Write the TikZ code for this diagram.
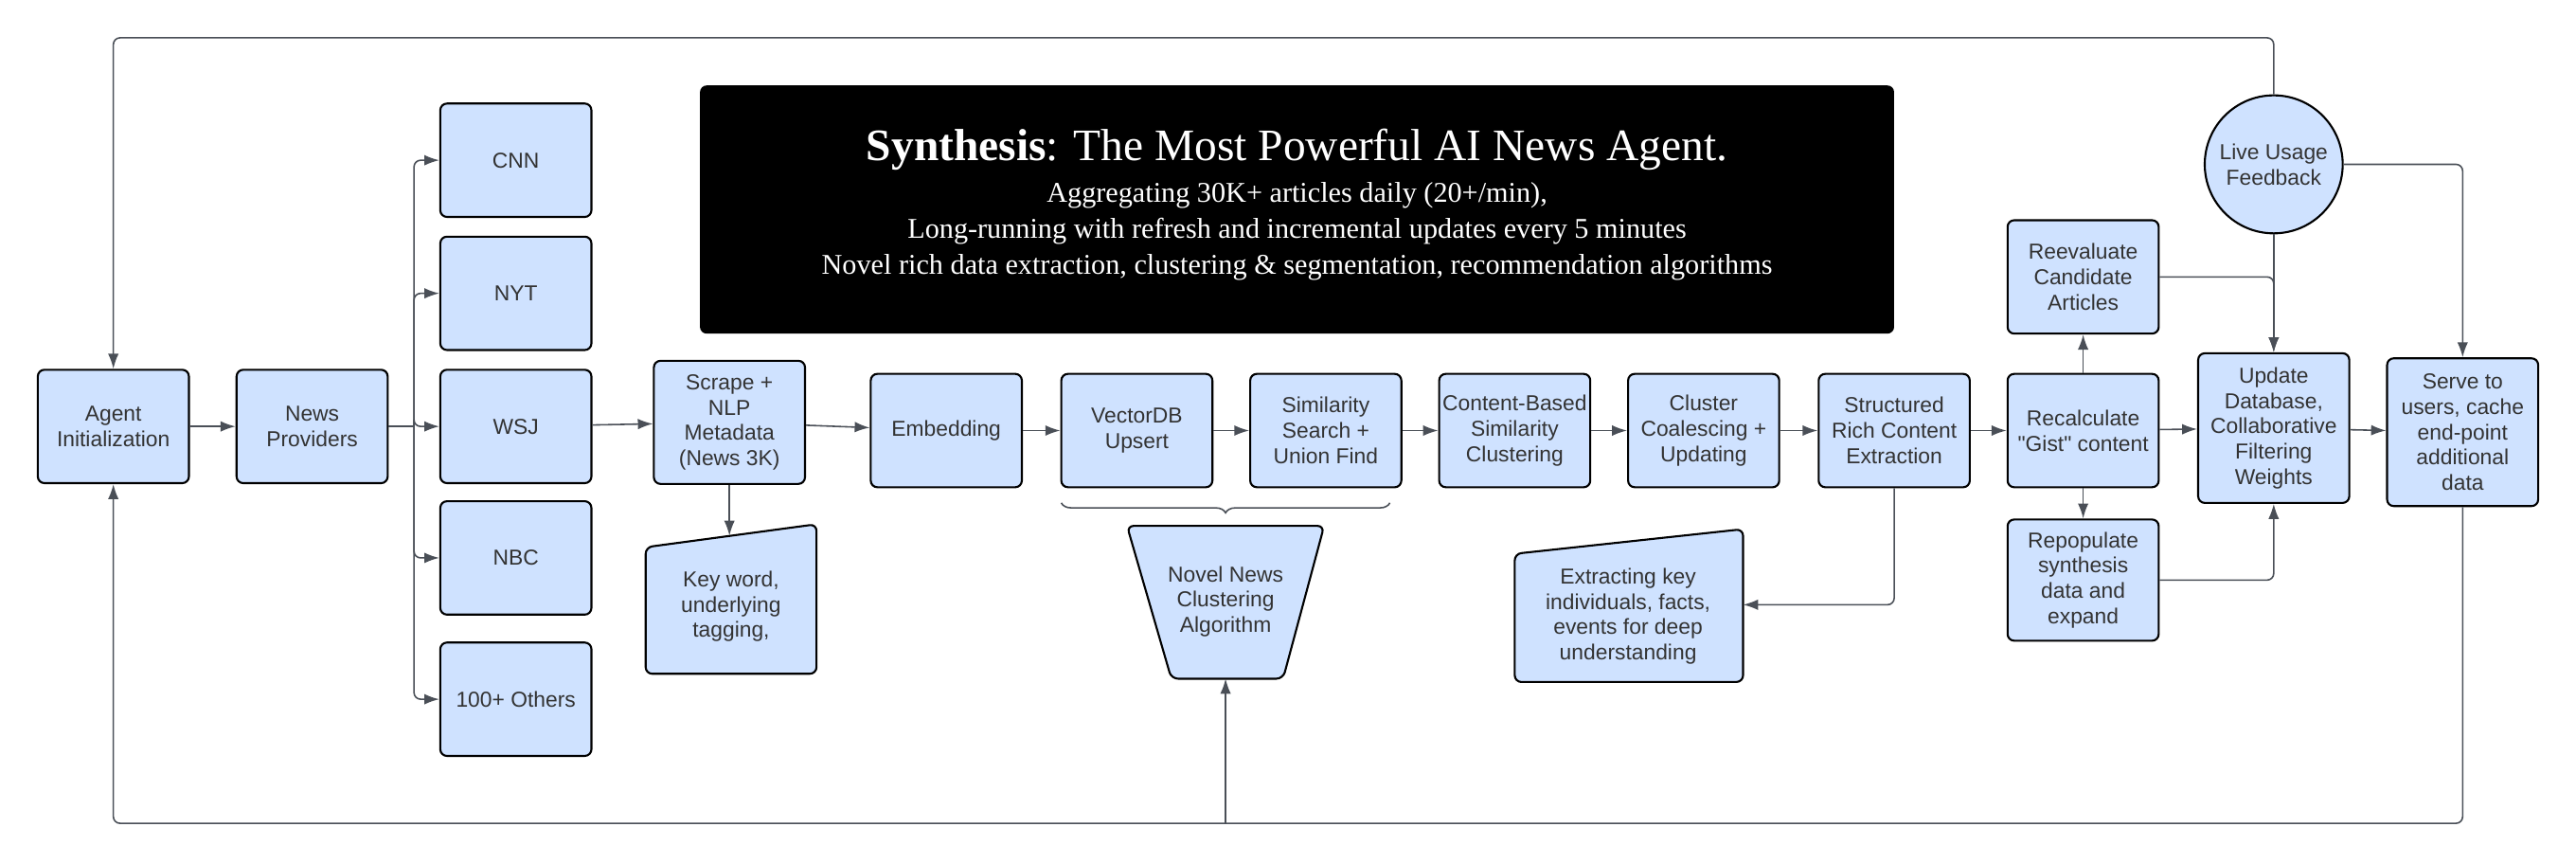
\documentclass[tikz,border=0pt]{standalone}
\usepackage{fontspec}
\setmainfont{Liberation Serif}
\newfontfamily\boxfont{Liberation Sans}
\usetikzlibrary{arrows.meta,decorations.pathreplacing}
\definecolor{boxblue}{HTML}{CFE2FF}
\definecolor{linegray}{HTML}{4A4F57}
\tikzset{
  box/.style={draw=black, fill=boxblue, rounded corners=2pt, line width=0.6pt, align=center,
    font=\boxfont\fontsize{6.5}{7.6}\selectfont, text=black!80, inner sep=1pt,
    minimum width=1.596cm, minimum height=1.197cm},
  shp/.style={draw=black, fill=boxblue, rounded corners=2pt, line width=0.6pt},
  lbl/.style={align=center, font=\boxfont\fontsize{6.5}{7.6}\selectfont, text=black!80},
  line/.style={draw=linegray, line width=0.45pt, rounded corners=2pt},
  ttl/.style={text=white, align=center}
}
\begin{document}
\begin{tikzpicture}[x=0.01735cm, y=-0.01735cm, >={Latex[length=4.5pt,width=3.2pt]}]
\useasboundingbox (0,0) rectangle (1568,524.6);
% title panel
\node[fill=black, rounded corners=2pt, minimum width=12.61cm, minimum height=2.62cm] (panel) at (789.5,127.5) {};
\node[ttl, font=\fontsize{13.5}{15}\selectfont] (head) at (789.5,91) {\textbf{Synthesis}: The Most Powerful AI News Agent.};
\node[ttl, font=\fontsize{8.6}{10}\selectfont] (sub1) at (789.5,119) {Aggregating 30K+ articles daily (20+/min),};
\node[ttl, font=\fontsize{8.6}{10}\selectfont] (sub2) at (789.5,141) {Long-running with refresh and incremental updates every 5 minutes};
\node[ttl, font=\fontsize{8.6}{10}\selectfont] (sub3) at (789.5,163) {Novel rich data extraction, clustering \& segmentation, recommendation algorithms};
% main row
\node[box] (agent) at (69,259.5) {Agent\\Initialization};
\node[box] (prov) at (190,259.5) {News\\Providers};
\node[box] (cnn) at (314,97.5) {CNN};
\node[box] (nyt) at (314,178.5) {NYT};
\node[box] (wsj) at (314,259.5) {WSJ};
\node[box] (nbc) at (314,339.5) {NBC};
\node[box] (oth) at (314,425.5) {100+ Others};
\node[box, minimum height=1.3cm] (scrape) at (444,257) {Scrape +\\NLP\\Metadata\\(News 3K)};
\node[box] (emb) at (576,262) {Embedding};
\node[box] (vdb) at (692,262) {VectorDB\\Upsert};
\node[box] (sim) at (807,262) {Similarity\\Search +\\Union Find};
\node[box] (cbs) at (922,262) {Content-Based\\Similarity\\Clustering};
\node[box] (coal) at (1037,262) {Cluster\\Coalescing +\\Updating};
\node[box] (struct) at (1153,262) {Structured\\Rich Content\\Extraction};
\node[box] (recalc) at (1268,262) {Recalculate\\"Gist" content};
\node[box] (reeval) at (1268,168.5) {Reevaluate\\Candidate\\Articles};
\node[box, minimum height=1.28cm] (repop) at (1268,353) {Repopulate\\synthesis\\data and\\expand};
\node[box, minimum height=1.58cm] (upd) at (1384,260.5) {Update\\Database,\\Collaborative\\Filtering\\Weights};
\node[box, minimum height=1.56cm] (serve) at (1499,263) {Serve to\\users, cache\\end-point\\additional\\data};
\node[draw=black, fill=boxblue, line width=0.6pt, circle, minimum size=1.457cm, inner sep=0pt, lbl] (live) at (1384,100) {Live Usage\\Feedback};
% slanted and tapered shapes
\draw[shp] (393,333) -- (497,319) -- (497,410) -- (393,410) -- cycle;
\node[lbl] (kw) at (445,369) {Key word,\\underlying\\tagging,};
\draw[shp] (686,320) -- (806,320) -- (781,413) -- (713,413) -- cycle;
\node[lbl] (novel) at (746,366) {Novel News\\Clustering\\Algorithm};
\draw[shp] (922,337) -- (1061,322) -- (1061,415) -- (922,415) -- cycle;
\node[lbl] (extr) at (991,375) {Extracting key\\individuals, facts,\\events for deep\\understanding};
\coordinate (kwtop) at (444,326);
\coordinate (novbot) at (746,413);
\coordinate (extin) at (1061,368);
\coordinate (br) at (252,259.5);
\coordinate (topl) at (69,23);
\coordinate (botl) at (69,501);
\coordinate (botn) at (746,501);
% connectors
\draw[line,->] (agent) -- (prov);
\draw[line] (prov.east) -- (br);
\foreach \p in {cnn,nyt,wsj,nbc,oth}
  \draw[line,->] (br) |- (\p.west);
\draw[line,->] (wsj) -- (scrape);
\draw[line,->] (scrape.south) -- (kwtop);
\draw[line,->] (scrape) -- (emb);
\draw[line,->] (emb) -- (vdb);
\draw[line,->] (vdb) -- (sim);
\draw[line,->] (sim) -- (cbs);
\draw[line,->] (cbs) -- (coal);
\draw[line,->] (coal) -- (struct);
\draw[line,->] (struct) -- (recalc);
\draw[line,->] (struct.south) |- (extin);
\draw[line,->] (recalc) -- (reeval);
\draw[line,->] (recalc) -- (repop);
\draw[line,->] (recalc) -- (upd);
\draw[line,->] (upd) -- (serve);
\draw[line,->] (reeval.east) -| (upd.north);
\draw[line,->] (repop.east) -| (upd.south);
\draw[line,->] (live.south) -- (upd.north);
\draw[line,->] (live.east) -| (serve.north);
\draw[line,->] (live.north) |- (topl) -- (agent.north);
\draw[line,->] (serve.south) |- (botl) -- (agent.south);
\draw[line,->] (botn) -- (novbot);
\draw[line, rounded corners=0pt, decorate, decoration={brace, mirror, amplitude=3pt}] (646,306) -- (846,306);
\end{tikzpicture}
\end{document}
